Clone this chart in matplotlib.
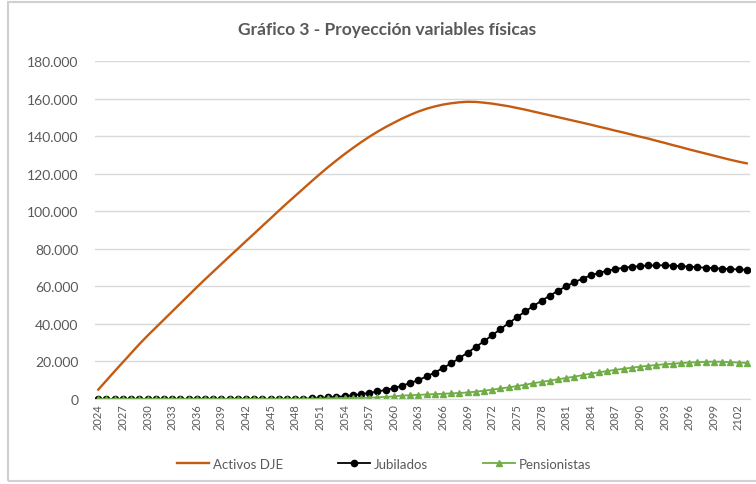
import numpy as np
import matplotlib
matplotlib.use("Agg")
from matplotlib import pyplot as plt
from matplotlib.ticker import FuncFormatter
from matplotlib.patches import Rectangle

# data (one value per year)
years = list(range(2024, 2104))
activos = [5000, 9900, 14800, 19600, 24400, 29200, 33700, 38000, 42300, 46600,
           50900, 55200, 59500, 63700, 67800, 71900, 76000, 80000, 84100, 88100,
           92200, 96200, 100300, 104300, 108200, 112100, 116000, 119800, 123500, 127000,
           130400, 133600, 136700, 139600, 142300, 144800, 147100, 149300, 151300, 153100,
           154600, 155800, 156800, 157500, 158000, 158300, 158200, 157800, 157300, 156600,
           155900, 155000, 154100, 153100, 152100, 151100, 150100, 149100, 148100, 147100,
           146100, 145000, 144000, 142900, 141900, 140800, 139700, 138700, 137500, 136400,
           135200, 134100, 132900, 131800, 130700, 129600, 128500, 127400, 126400, 125500]
jubilados = [0, 0, 0, 0, 0, 0, 0, 0, 0, 0,
             0, 0, 0, 0, 0, 0, 0, 0, 0, 0,
             0, 0, 0, 0, 50, 100, 300, 500, 800, 1100,
             1500, 2000, 2600, 3200, 4000, 4800, 5800, 7100, 8500, 10100,
             12000, 14100, 16500, 19000, 21800, 24700, 27700, 30800, 34000, 37200,
             40400, 43500, 46600, 49500, 52300, 55000, 57600, 60000, 62200, 64100,
             65800, 67200, 68300, 69200, 69900, 70400, 70800, 71100, 71200, 71200,
             71000, 70800, 70500, 70200, 69900, 69700, 69400, 69200, 69000, 68800]
pensionistas = [0, 0, 0, 0, 0, 0, 0, 0, 0, 0,
                0, 0, 0, 0, 0, 0, 0, 0, 0, 0,
                0, 0, 0, 0, 0, 0, 100, 200, 300, 400,
                500, 500, 600, 700, 900, 1100, 1400, 1800, 2000, 2200,
                2400, 2600, 2800, 3000, 3200, 3500, 3900, 4400, 5000, 5600,
                6200, 6900, 7600, 8400, 9100, 9800, 10500, 11200, 11900, 12700,
                13500, 14200, 14900, 15500, 16100, 16700, 17200, 17700, 18100, 18500,
                18800, 19100, 19400, 19600, 19800, 19900, 19800, 19600, 19400, 19200]
yticks = [0, 20000, 40000, 60000, 80000, 100000, 120000, 140000, 160000, 180000]

plt.rcParams['font.family'] = ['Lato', 'DejaVu Sans']
gray = '#595959'

fig = plt.figure(figsize=(7.56, 4.85), dpi=100)
fig.patches.append(Rectangle((8/756, 3/485), 760/756, 479/485, transform=fig.transFigure,
                             fill=False, edgecolor='#d0d0d0', linewidth=1.5))
ax = fig.add_axes([95/756, 1-400/485, 655/756, 338/485])

x = np.arange(len(years))
ax.plot(x, activos, '-', color='#C55A11', linewidth=1.7, label='Activos DJE')
ax.plot(x, jubilados, '-o', color='black', linewidth=1.3, markersize=4.5, label='Jubilados')
ax.plot(x, pensionistas, '-^', color='#70AD47', markeredgecolor='#70AD47', linewidth=1.3,
        markersize=4.5, label='Pensionistas')

ax.set_xlim(-0.4, len(years) - 0.6)
ax.set_ylim(0, 180000)
ax.set_yticks(yticks)
ax.yaxis.set_major_formatter(FuncFormatter(lambda v, p: f'{int(v):,}'.replace(',', '.')))
ax.set_xticks(x[::3])
ax.set_xticklabels([str(y) for y in years[::3]], rotation=90, fontsize=8, color=gray)
ax.tick_params(axis='y', length=0, labelsize=10, colors=gray, pad=12)
ax.tick_params(axis='x', length=0, pad=3)
ax.grid(axis='y', color='#d9d9d9', linewidth=1)
ax.set_axisbelow(True)
for s in ['left', 'right', 'top']:
    ax.spines[s].set_visible(False)
ax.spines['bottom'].set_color('#d9d9d9')

fig.text(0.512, 1-30/485, 'Gráfico 3 - Proyección variables físicas', ha='center', va='center',
         fontsize=12.5, fontweight='bold', color=gray)
fig.legend(loc='center', bbox_to_anchor=(0.508, 1-465/485), ncol=3, frameon=False,
           fontsize=9.5, labelcolor=gray, handlelength=2.4, columnspacing=4.2, handletextpad=0.3)

fig.savefig('out.png', dpi=100)
